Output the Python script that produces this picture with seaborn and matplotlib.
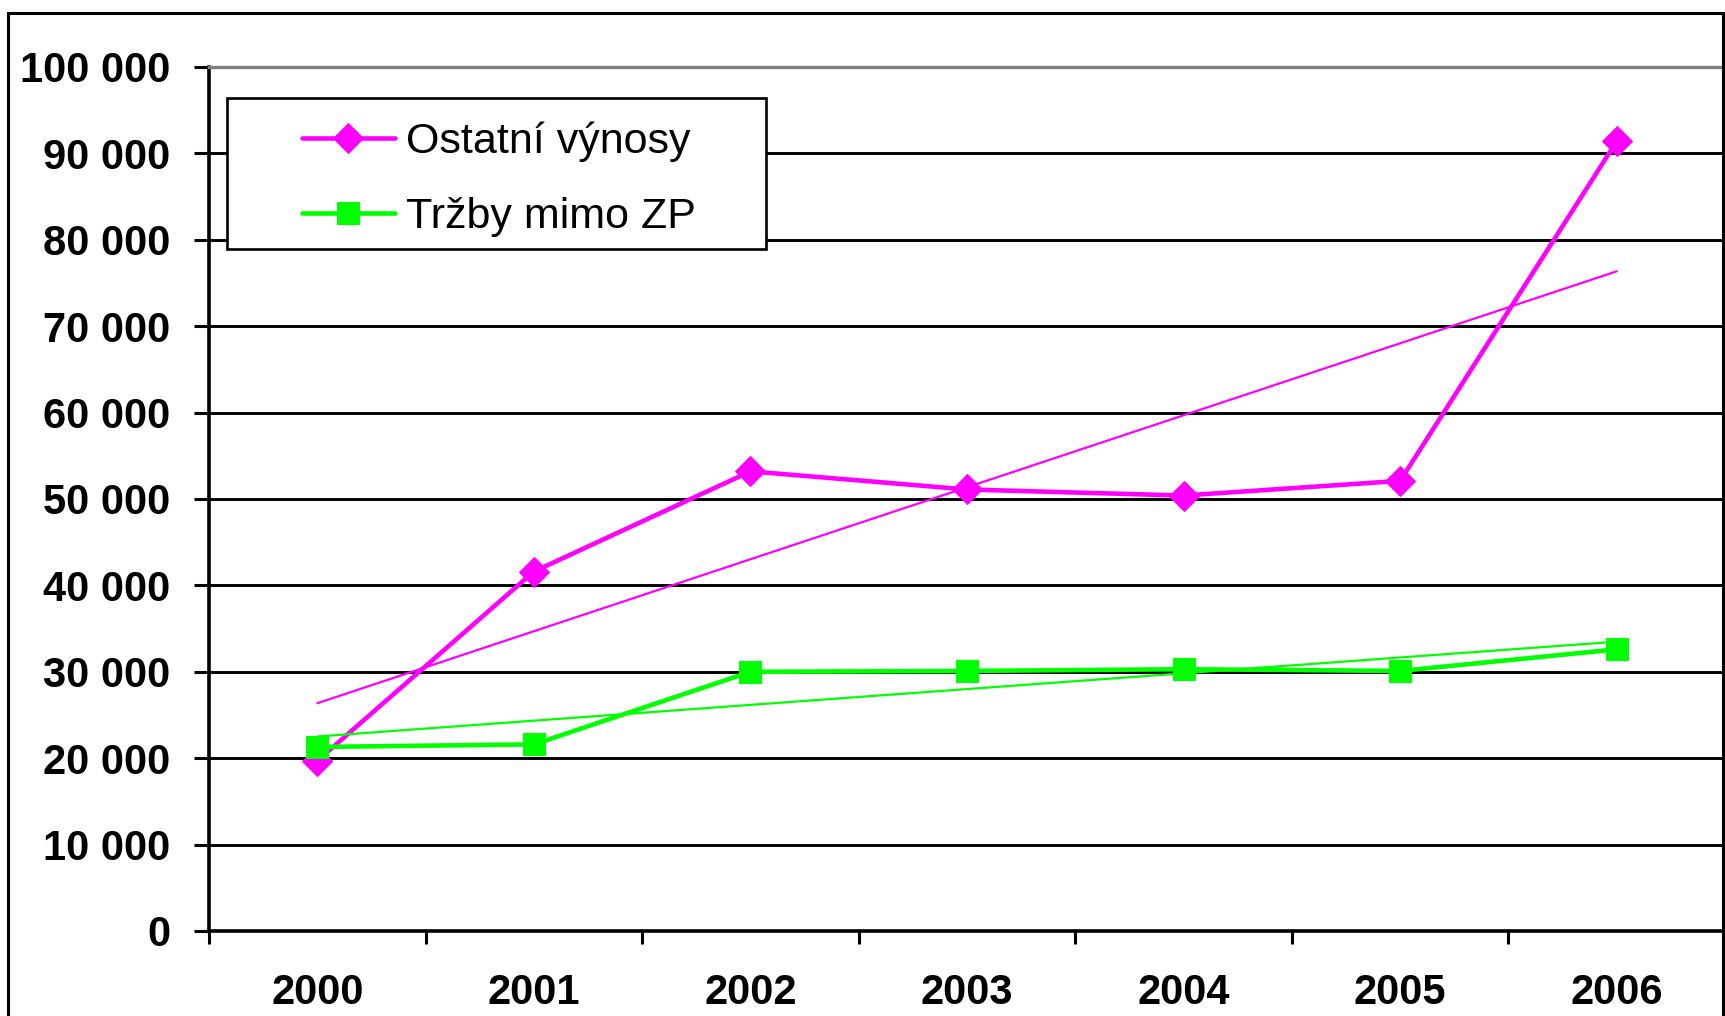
import numpy as np
import pandas as pd
import seaborn as sns
import matplotlib.pyplot as plt
from matplotlib.patches import Rectangle

# data
years = ['2000', '2001', '2002', '2003', '2004', '2005', '2006']
ostatni_vynosy = [19700, 41600, 53200, 51100, 50400, 52100, 91400]
trzby_mimo_zp = [21300, 21600, 30000, 30100, 30300, 30100, 32600]
series_names = ['Ostatní výnosy', 'Tržby mimo ZP']
y_ticks = list(range(0, 100001, 10000))

sns.set_style("white")
plt.rcParams['font.family'] = ['Liberation Sans', 'DejaVu Sans']
plt.rcParams['text.color'] = 'black'
plt.rcParams['xtick.color'] = 'black'
plt.rcParams['ytick.color'] = 'black'

magenta = '#FF00FF'
green = '#00FF00'

df = pd.DataFrame({
    'x': list(range(len(years))) * 2,
    'value': ostatni_vynosy + trzby_mimo_zp,
    'series': [series_names[0]] * len(years) + [series_names[1]] * len(years),
})

fig = plt.figure(figsize=(17.25, 10.16), dpi=100)
ax = fig.add_axes([209 / 1725, 1 - 931 / 1016, 1 - 209 / 1725, (931 - 67) / 1016])

sns.lineplot(data=df[df['series'] == series_names[0]], x='x', y='value', ax=ax,
             color=magenta, lw=3.3, marker='D', markersize=15, markeredgecolor=magenta,
             label=series_names[0], zorder=4)
sns.lineplot(data=df[df['series'] == series_names[1]], x='x', y='value', ax=ax,
             color=green, lw=3.3, marker='s', markersize=16, markeredgecolor=green,
             label=series_names[1], zorder=5)

# linear trend lines
xs = np.arange(len(years))
for vals, col in [(ostatni_vynosy, magenta), (trzby_mimo_zp, green)]:
    k, q = np.polyfit(xs, vals, 1)
    ax.plot(xs, k * xs + q, color=col, lw=1.6, zorder=6)

ax.set_xlim(-0.5, 6.5)
ax.set_ylim(0, 100000)
ax.set_xlabel('')
ax.set_ylabel('')

ax.set_xticks(np.arange(-0.5, 7, 1))
ax.set_xticklabels([])
ax.set_xticks(xs, minor=True)
ax.set_xticklabels(years, minor=True, fontsize=30, fontweight='bold')
ax.tick_params(axis='x', which='major', direction='out', length=9, width=2.2, color='black', bottom=True)
ax.tick_params(axis='x', which='minor', length=0, pad=30)

ax.set_yticks(y_ticks)
ax.set_yticklabels([f"{v:,}".replace(',', ' ') for v in y_ticks], fontsize=30, fontweight='bold')
ax.tick_params(axis='y', direction='out', length=11, width=2.2, color='black', pad=17, left=True)

ax.yaxis.grid(True, color='black', lw=2.1)
ax.yaxis.get_gridlines()[-1].set_color('#808080')
ax.set_axisbelow(True)

for s in ['left', 'bottom']:
    ax.spines[s].set_color('black')
    ax.spines[s].set_linewidth(2.6)
ax.spines['top'].set_color('#808080')
ax.spines['top'].set_linewidth(2.4)
ax.spines['right'].set_visible(False)

# legend with its own box
ax.add_patch(Rectangle((0.0119, 0.789), 0.3555, 0.175, transform=ax.transAxes,
                       facecolor='white', edgecolor='black', lw=1.9, zorder=7))
leg = ax.legend(loc='center left', bbox_to_anchor=(0.0613, 0.870), frameon=False,
                fontsize=31, handlelength=2.15, handletextpad=0.26, labelspacing=0.8,
                borderpad=0, borderaxespad=0)
leg.set_zorder(8)

# outer chart border
fig.add_artist(Rectangle((8 / 1725, -0.1), 1715 / 1725, 1.1 - 12.5 / 1016,
                         transform=fig.transFigure, fill=False, edgecolor='black', lw=2.2))

fig.savefig('out.png', dpi=100)
